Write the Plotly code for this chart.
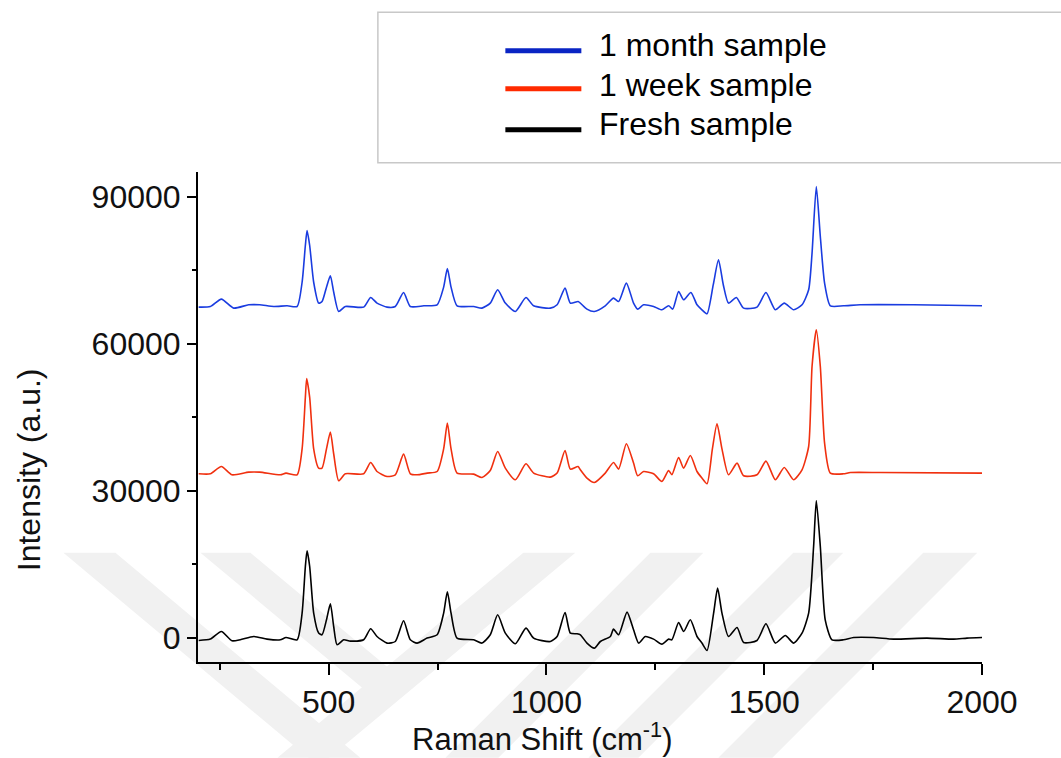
import plotly.graph_objects as go

# ---------------- data ----------------
series_names = ["1 month sample", "1 week sample", "Fresh sample"]

x_fresh = [201.6, 228.4, 253.7, 278, 297, 327.8, 358.5, 389, 402, 427.5, 439, 446.5, 450.4, 456.4, 465.6,
           477, 484.8, 495, 503.9, 511.5, 519.3, 534.4, 549.8, 580.3, 596.4, 611, 634, 653, 672, 687.5,
           703, 726, 749, 764, 772.5, 781, 794.8, 832.9, 852, 871, 888, 905.6, 928.6, 953, 970.6, 1009,
           1024.5, 1042.7, 1054.8, 1070, 1078, 1093, 1110, 1123.7, 1146.7, 1154, 1165.7, 1185, 1200,
           1211.7, 1227, 1246, 1265, 1280.5, 1288, 1303.5, 1315, 1330.4, 1345.7, 1357, 1368.7, 1383.8,
           1393, 1403, 1418, 1437.6, 1452.7, 1483.4, 1504, 1525.5, 1548.4, 1567.5, 1586.8, 1602, 1613.4,
           1619.6, 1628.8, 1640, 1655.6, 1682, 1705.3, 1751, 1797, 1873.7, 1935, 1965.6, 2000]
y_fresh = [-610, -330, 1224, -670, -470, 204, -330, -470, 0, -470, 4980, 14490, 17694, 14490, 4980,
           898, 551, 3612, 6877, 2245, -1490, -470, -735, -470, 1775, 204, -1140, -816, 3408, -470,
           -1140, -122, 551, 4980, 9326, 4980, -122, -470, -1140, 551, 4633, 898, -1285, 1918, -122, -816,
           204, 5102, 898, 755, 551, -1140, -2170, -816, 204, 1714, 551, 5184, 1571,
           -1140, 204, -330, -1350, -330, -470, 3061, 1224, 3612, 204, -1140, -2653, 4980,
           10082, 4980, 204, 2040, -1020, -610, 2796, -1140, 408, -1140, 898, 4980, 18570,
           27959, 18570, 3612, -470, -470, 0, 0, -330, -122, -330, -122, 0]

x_week = [201.6, 228.4, 253.7, 278, 316.3, 341.5, 389, 402, 427.5, 439, 446.5, 449.5, 456.4, 465.6,
          477, 484.8, 495, 503.9, 511.5, 523, 538.3, 580.3, 596.4, 611, 634, 653, 672, 687.5, 703, 726,
          749, 764, 772.5, 781, 794.8, 832.9, 852, 871, 888, 905.6, 928.6, 953, 970.6, 1009, 1024.5,
          1042.7, 1054.8, 1072.6, 1077.8, 1093, 1110, 1135, 1154, 1165.7, 1183.5, 1200, 1209.4, 1223,
          1246, 1265, 1280.5, 1288, 1303.5, 1315, 1330.4, 1345.7, 1357, 1368.7, 1381, 1391.6, 1403,
          1418, 1437.6, 1452.7, 1483.4, 1504, 1525.5, 1546, 1567.5, 1586.8, 1602, 1609.8, 1619.6,
          1628.8, 1638.6, 1651.8, 1682, 1697.7, 1767, 2000]
y_week = [33408, 33408, 34898, 33204, 33748, 33748, 33204, 33551, 33204, 38500, 49000, 52857, 49000, 38500,
          34571, 34571, 38500, 41918, 37500, 31980, 33408, 33408, 35714, 33877, 32857, 33204, 37420, 33408, 33204, 33551,
          33877, 38500, 43755, 38500, 33551, 33340, 32653, 34081, 37959, 34571, 32183, 35449, 33551, 32734, 33551,
          38163, 34367, 34898, 34224, 32530, 31633, 33551, 35714, 34367, 39531, 35592, 33000, 33877,
          33408, 31837, 34081, 33204, 36735, 34571, 37143, 33877, 32530, 31367, 38500, 43612, 38500,
          33204, 35592, 33000, 33204, 36000, 32183, 34694, 32183, 34224, 38980, 55306, 62796,
          55306, 39673, 33551, 33408, 33673, 33673, 33551]

x_month = [201.6, 228.4, 253.7, 282, 316.3, 341.5, 374, 404.5, 427.5, 439, 446.5, 450.4, 456.4, 465.6,
           477, 484.8, 495, 503.9, 511.5, 523, 538.3, 580.3, 596.4, 611, 634, 653, 672, 687.5, 718.6, 749,
           764, 772.5, 781, 794.8, 832.9, 852, 871, 888, 905.6, 928.6, 953, 970.6, 1009, 1024.5, 1042.7,
           1054.8, 1072.6, 1077.8, 1093, 1110, 1135, 1154, 1165.7, 1183.5, 1200, 1209.4, 1223, 1246,
           1265, 1280.5, 1290, 1303.5, 1315, 1331.6, 1345.7, 1357, 1368.7, 1383, 1395, 1406, 1418, 1436,
           1452.7, 1483.4, 1504, 1525.5, 1546, 1567.5, 1586.8, 1602, 1609.8, 1619.6, 1628.8, 1638.6,
           1651.8, 1682, 1720, 1843, 2000]
y_month = [67429, 67551, 69061, 67224, 67898, 67898, 67551, 67694, 67551, 72500, 80000, 83061, 80000, 72500,
           68245, 68571, 71500, 73816, 70500, 66531, 67551, 67429, 69388, 68245, 67429, 67551, 70408, 67551, 67694, 67898,
           71500, 75306, 71500, 67694, 67551, 67224, 68245, 70959, 68245, 66531, 69388, 67694, 67224, 67898, 71306,
           68245, 68571, 68245, 67020, 66531, 67694, 69265, 68571, 72327, 68245, 67020, 67898, 67551,
           66878, 67694, 67020, 70612, 68918, 70408, 67898, 66878, 66061, 72000, 77082, 72000, 68245, 69388,
           67224, 67429, 70408, 66878, 68245, 66878, 67898, 70959, 78435, 92041, 81837, 72327,
           67694, 67694, 67898, 67898, 67694]

x_ticks = [500, 1000, 1500, 2000]
y_ticks = [0, 30000, 60000, 90000]

line_colors = ["#1a3ce0", "#f0300f", "#000000"]
legend_colors = ["#0a24c4", "#ff2a00", "#000000"]

# ---------------- layout geometry (pixels) ----------------
W, H = 1061, 758
L, R, T, B = 197.6, 1061 - 981.7, 172.2, 758 - 662.2
PW, PH = W - L - R, H - T - B


def px(xp):
    return (xp - L) / PW


def py(yp):
    return (H - B - yp) / PH


FONT = "Liberation Sans, Arial, sans-serif"

fig = go.Figure()
for xs, ys, name, col in [(x_month, y_month, series_names[0], line_colors[0]),
                          (x_week, y_week, series_names[1], line_colors[1]),
                          (x_fresh, y_fresh, series_names[2], line_colors[2])]:
    fig.add_trace(go.Scatter(x=xs, y=ys, mode="lines", name=name,
                             line=dict(color=col, width=1.6, shape="spline", smoothing=0.6),
                             showlegend=False))

shapes = []
# faint background watermark
wm = "#f1f1f1"
polys = [
    [(63, 553), (115, 553), (360, 758), (308, 758)],
    [(200, 553), (250, 553), (412.5, 688.4), (361.5, 687.6)],
    [(523, 553), (575, 553), (329, 758), (277, 758)],
    [(650, 553), (703, 553), (498, 758), (445, 758)],
    [(793, 553), (843, 553), (638, 758), (588, 758)],
    [(923, 553), (977, 553), (772, 758), (718, 758)],
]
for poly in polys:
    path = "M " + " L ".join(f"{px(a):.4f},{py(b):.4f}" for a, b in poly) + " Z"
    shapes.append(dict(type="path", xref="paper", yref="paper", path=path,
                       fillcolor=wm, line=dict(width=0), layer="below"))

# legend box
shapes.append(dict(type="rect", xref="paper", yref="paper",
                   x0=px(377.5), x1=px(1068), y0=py(12.5), y1=py(163),
                   line=dict(color="#c8c8c8", width=1.5), fillcolor="rgba(0,0,0,0)"))
leg_line_y = [51, 89, 130]
leg_text_y = [45, 85, 124]
annotations = []
for i in range(3):
    shapes.append(dict(type="line", xref="paper", yref="paper",
                       x0=px(505), x1=px(581), y0=py(leg_line_y[i]), y1=py(leg_line_y[i]),
                       line=dict(color=legend_colors[i], width=5)))
    annotations.append(dict(xref="paper", yref="paper", x=px(597), y=py(leg_text_y[i]),
                            xanchor="left", yanchor="middle", showarrow=False,
                            text=series_names[i], font=dict(family=FONT, size=32, color="#000")))

# axis titles
annotations.append(dict(xref="paper", yref="paper", x=px(542), y=py(737), xanchor="center",
                        yanchor="middle", showarrow=False, text="Raman Shift (cm<sup>-1</sup>)",
                        font=dict(family=FONT, size=31, color="#111")))
annotations.append(dict(xref="paper", yref="paper", x=px(28), y=py(470), xanchor="center",
                        yanchor="middle", showarrow=False, text="Intensity (a.u.)", textangle=-90,
                        font=dict(family=FONT, size=32, color="#111")))

fig.update_layout(
    width=W, height=H,
    margin=dict(l=L, r=R, t=T, b=B, pad=0),
    paper_bgcolor="white", plot_bgcolor="rgba(0,0,0,0)",
    shapes=shapes, annotations=annotations, showlegend=False,
    xaxis=dict(range=[200, 2000], tickvals=x_ticks, ticks="outside", ticklen=11, tickwidth=2,
               tickcolor="black", showline=True, linecolor="black", linewidth=2, showgrid=False,
               zeroline=False, mirror=False,
               tickfont=dict(family=FONT, size=32, color="#111"),
               minor=dict(dtick=250, tick0=0, ticks="outside", ticklen=6, tickwidth=2, tickcolor="black",
                          showgrid=False)),
    yaxis=dict(range=[-5000, 95000], tickvals=y_ticks, tickformat="d", ticks="outside", ticklen=9,
               tickwidth=2, tickcolor="black", showline=True, linecolor="black", linewidth=2,
               showgrid=False, zeroline=False, mirror=False,
               tickfont=dict(family=FONT, size=32, color="#111"),
               minor=dict(dtick=15000, tick0=0, ticks="outside", ticklen=4, tickwidth=2, tickcolor="black",
                          showgrid=False)),
)

fig.write_html("out.html")
